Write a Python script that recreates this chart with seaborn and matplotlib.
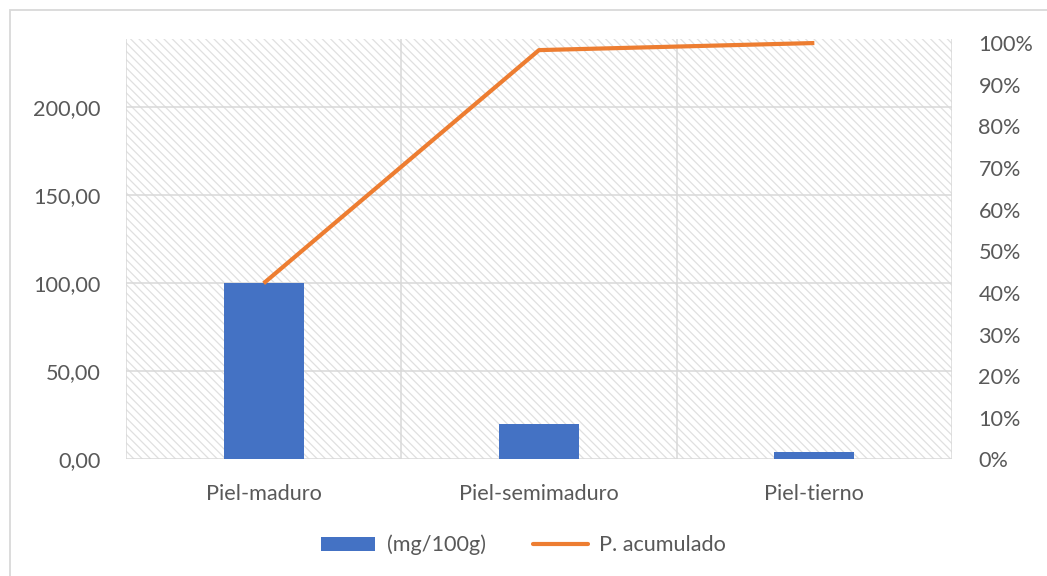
import numpy as np
import pandas as pd
import matplotlib
matplotlib.use("Agg")
import matplotlib.pyplot as plt
from matplotlib.patches import Rectangle
from matplotlib.lines import Line2D
from matplotlib.ticker import FuncFormatter, FixedLocator
import seaborn as sns

# Data
categories = ["Piel-maduro", "Piel-semimaduro", "Piel-tierno"]
contenido = [100.0, 20.0, 4.5]          # mg/100g
acumulado = [0.423, 0.983, 1.0]         # cumulative share

bar_label = "(mg/100g)"
line_label = "P. acumulado"

BLUE = "#4472C4"
ORANGE = "#ED7D31"
GRID = "#D9D9D9"
TEXT = "#595959"
FS = 15.6

sns.set_theme(style="white")
plt.rcParams["font.family"] = ["Lato", "DejaVu Sans"]
plt.rcParams["hatch.linewidth"] = 0.9
plt.rcParams["hatch.color"] = "#E0E0E0"

df = pd.DataFrame({"cat": categories, "val": contenido, "acc": acumulado})

fig = plt.figure(figsize=(10.47, 5.76), dpi=100)
ax = fig.add_axes([0.1203, 0.2023, 0.9093 - 0.1203, 0.9318 - 0.2023])

# hatched plot background
ax.patch.set_facecolor("white")
ax.patch.set_hatch("\\" * 4)
ax.patch.set_edgecolor("#E0E0E0")
ax.patch.set_linewidth(0)

sns.barplot(data=df, x="cat", y="val", color=BLUE, width=0.29,
            saturation=1, linewidth=0, ax=ax, zorder=3)

ax.set_xlim(-0.5, 2.5)
ax.set_ylim(0, 238.3)
ax.set_yticks([0, 50, 100, 150, 200])
ax.yaxis.set_major_formatter(FuncFormatter(lambda v, p: f"{v:.2f}".replace(".", ",")))
ax.set_xlabel("")
ax.set_ylabel("")

for s in ax.spines.values():
    s.set_visible(False)

ax.grid(axis="y", color=GRID, linewidth=1.1, zorder=1)
ax.xaxis.set_minor_locator(FixedLocator([-0.5, 0.5, 1.5, 2.5]))
ax.grid(axis="x", which="minor", color=GRID, linewidth=1.1, zorder=1)
ax.grid(axis="x", which="major", visible=False)
ax.set_axisbelow(True)

ax.tick_params(axis="x", which="major", length=0, pad=18, labelsize=FS, labelcolor=TEXT)
ax.tick_params(axis="x", which="minor", length=5, width=1.1, color=GRID)
ax.tick_params(axis="y", length=0, pad=18, labelsize=FS, labelcolor=TEXT)

# cumulative line on the secondary axis
ax2 = ax.twinx()
sns.lineplot(data=df, x="cat", y="acc", color=ORANGE, linewidth=3, ax=ax2,
             sort=False, solid_capstyle="butt", zorder=4)
ax2.set_ylim(0, 1.009)
ax2.set_yticks(np.arange(0, 1.01, 0.1))
ax2.yaxis.set_major_formatter(FuncFormatter(lambda v, p: f"{v*100:.0f}%"))
ax2.set_xlim(-0.5, 2.5)
ax2.set_ylabel("")
ax2.tick_params(axis="y", length=0, pad=19, labelsize=FS, labelcolor=TEXT)
for s in ax2.spines.values():
    s.set_visible(False)
ax2.grid(False)

handles = [Rectangle((0, 0), 1, 1, facecolor=BLUE, edgecolor="none"),
           Line2D([0], [0], color=ORANGE, linewidth=3)]
fig.legend(handles, [bar_label, line_label], loc="center",
           bbox_to_anchor=(0.5, 1 - 545 / 576), ncol=2, frameon=False,
           fontsize=FS, labelcolor=TEXT, handlelength=2.5,
           handleheight=0.6, columnspacing=2.2, handletextpad=0.55)

# chart frame
fig.add_artist(Rectangle((10 / 1047, -0.2), 1.5, 1.2 - 10 / 576,
                         transform=fig.transFigure, fill=False,
                         edgecolor=GRID, linewidth=1.3, clip_on=False))

fig.savefig("out.png", dpi=100)
